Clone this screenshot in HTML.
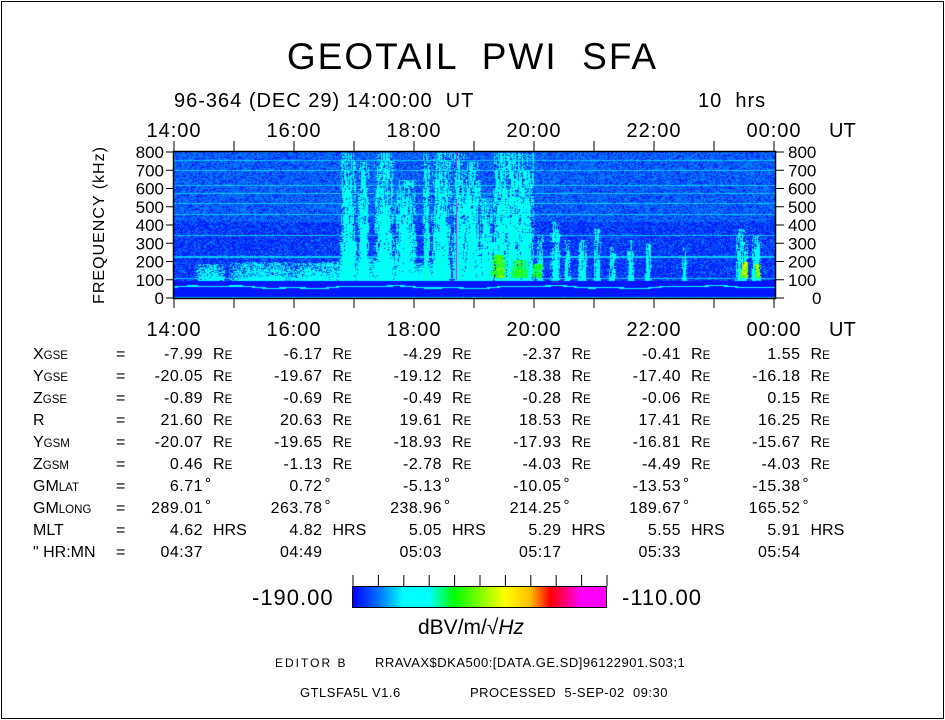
<!DOCTYPE html>
<html><head><meta charset="utf-8"><style>
body{margin:0;background:#fff;}
#root{position:relative;width:945px;height:720px;overflow:hidden;background:#fff;font-family:"Liberation Sans",sans-serif;color:#000;}
.t{position:absolute;white-space:pre;line-height:1;}
small{font-size:72%;}
</style></head><body>
<div id="root">
<div style="position:absolute;left:1px;top:1px;width:941px;height:716px;border:1px solid #000;"></div>
<div class="t" style="left:0;width:945px;text-align:center;top:38px;font-size:37px;letter-spacing:2px;">GEOTAIL  PWI  SFA</div>
<div class="t" style="left:174px;top:91px;font-size:20px;letter-spacing:1px;">96-364 (DEC 29) 14:00:00  UT</div>
<div class="t" style="left:698px;top:91px;font-size:20px;letter-spacing:1px;">10  hrs</div>
<canvas id="spec" width="602" height="147" style="position:absolute;left:174px;top:152px;"></canvas>
<svg id="ax" width="945" height="720" style="position:absolute;left:0;top:0;"></svg>
<div id="table"></div>
<div style="position:absolute;left:352px;top:586px;width:253px;height:20px;border:1px solid #000;background:linear-gradient(to right,#0000ff 0%,#0070ff 10%,#00ffff 20%,#00ffff 30%,#00ff00 40%,#ffff00 60%,#ffc000 70%,#ff0000 78%,#ff00a0 86%,#ff00ff 90%,#ff00ff 100%);"></div>
<div class="t" style="left:252px;top:587px;font-size:22px;letter-spacing:1px;">-190.00</div>
<div class="t" style="left:622px;top:587px;font-size:22px;letter-spacing:1px;">-110.00</div>
<div class="t" style="left:418px;top:617px;font-size:21px;">dBV/m/√<i>Hz</i></div>
<div class="t" style="left:275px;top:657px;font-size:12px;letter-spacing:2px;">EDITOR B</div>
<div class="t" style="left:375px;top:656px;font-size:13px;letter-spacing:0.5px;">RRAVAX$DKA500:[DATA.GE.SD]96122901.S03;1</div>
<div class="t" style="left:300px;top:686px;font-size:13px;letter-spacing:0.5px;">GTLSFA5L V1.6</div>
<div class="t" style="left:470px;top:686px;font-size:13px;letter-spacing:0.5px;">PROCESSED  5-SEP-02  09:30</div>
</div>
<script>
// ---- chart data ----
const hourLabels = ["14:00","16:00","18:00","20:00","22:00","00:00"];
const freqTicks = [0,100,200,300,400,500,600,700,800];
const burstT = [2.9,3.15,3.5,3.85,4.2,4.45,4.75,4.95,5.2,5.45,5.65,5.85,6.1,6.35,6.55,6.8,7.05,7.3,7.6,7.9,8.5,9.45,9.7];
const burstW = [0.3,0.2,0.35,0.4,0.12,0.35,0.25,0.35,0.3,0.3,0.3,0.3,0.12,0.18,0.12,0.15,0.12,0.12,0.12,0.12,0.1,0.22,0.18];
const burstTop = [800,750,800,650,800,800,800,750,550,800,800,800,350,420,320,320,380,280,320,300,280,380,340];
const burstLevel = [0.25,0.24,0.24,0.23,0.3,0.26,0.25,0.25,0.24,0.27,0.27,0.26,0.23,0.23,0.23,0.22,0.22,0.22,0.22,0.22,0.22,0.24,0.24];
const patchT = [5.4,5.75,6.05,9.5,9.72];
const patchW = [0.25,0.3,0.2,0.14,0.12];
const patchLo = [110,110,110,110,110];
const patchHi = [240,210,190,200,190];
const patchLevel = [0.5,0.46,0.44,0.6,0.55];
const hazeT = [0.6,1.5,2.4,3.4,4.1];
const hazeW = [0.5,1.2,1.2,1.2,0.8];
const hazeTop = [190,200,200,215,200];
const hLines = [110,225,228,345,460,520,575,620,700,755];
const rows = [
 ["X","GSE",["-7.99","-6.17","-4.29","-2.37","-0.41","1.55"],"RE"],
 ["Y","GSE",["-20.05","-19.67","-19.12","-18.38","-17.40","-16.18"],"RE"],
 ["Z","GSE",["-0.89","-0.69","-0.49","-0.28","-0.06","0.15"],"RE"],
 ["R","",["21.60","20.63","19.61","18.53","17.41","16.25"],"RE"],
 ["Y","GSM",["-20.07","-19.65","-18.93","-17.93","-16.81","-15.67"],"RE"],
 ["Z","GSM",["0.46","-1.13","-2.78","-4.03","-4.49","-4.03"],"RE"],
 ["GM","LAT",["6.71","0.72","-5.13","-10.05","-13.53","-15.38"],"°"],
 ["GM","LONG",["289.01","263.78","238.96","214.25","189.67","165.52"],"°"],
 ["MLT","",["4.62","4.82","5.05","5.29","5.55","5.91"],"HRS"],
 ["\" HR:MN","",["04:37","04:49","05:03","05:17","05:33","05:54"],""]
];
// ---- axes ----
const X0=174, PW=600, Y0=298, PH=146;
const xs = h => X0 + h*PW/10;
const ys = f => Y0 - f*PH/800;
const NS="http://www.w3.org/2000/svg";
const svg=document.getElementById('ax');
function mk(tag,attrs,txt){const e=document.createElementNS(NS,tag);for(const k in attrs)e.setAttribute(k,attrs[k]);if(txt!==undefined)e.textContent=txt;svg.appendChild(e);return e;}
const frame=mk('rect',{x:173.5,y:151.5,width:602,height:147,fill:'none',stroke:'#000','stroke-width':1.5});


for(let h=0;h<=10;h++){
 const a=mk('line',{x1:xs(h),x2:xs(h),y1:141,y2:151,stroke:'#000'});
 
 
 const b=mk('line',{x1:xs(h),x2:xs(h),y1:298,y2:308,stroke:'#000'});
 
 
}
hourLabels.forEach((l,i)=>{
 const a=mk('text',{x:xs(i*2),y:137,'text-anchor':'middle','font-size':20,'font-family':'Liberation Sans','letter-spacing':1},l);
 
 
 const b=mk('text',{x:xs(i*2),y:336,'text-anchor':'middle','font-size':20,'font-family':'Liberation Sans','letter-spacing':1},l);
 
 
});
[137,336].forEach(y=>{const u=mk('text',{x:829,y:y,'font-size':20,'font-family':'Liberation Sans'},'UT');
 
 });
freqTicks.forEach(f=>{
 const y=ys(f);
 const a=mk('line',{x1:166,x2:174,y1:y,y2:y,stroke:'#000'});
 
 
 const b=mk('line',{x1:776,x2:784,y1:y,y2:y,stroke:'#000'});
 
 
 const c=mk('text',{x:164,y:y+6,'text-anchor':'end','font-size':17,'font-family':'Liberation Sans'},String(f));
 
 
 const d=mk('text',{x:f==0?812:788,y:y+6,'font-size':17,'font-family':'Liberation Sans'},String(f));
 
 
});
const yl=mk('text',{x:0,y:0,transform:'translate(104,225) rotate(-90)','text-anchor':'middle','font-size':16,'font-family':'Liberation Sans','letter-spacing':1},'FREQUENCY  (kHz)');


for(let i=0;i<=10;i++){const x=353+i*25.4;const t=mk('line',{x1:x,x2:x,y1:575,y2:586,stroke:'#000'});
 
 }
// ---- table ----
const tb=document.getElementById('table');
rows.forEach((r,i)=>{
 const y=347+i*22;
 const l=document.createElement('div');l.className='t';l.style.cssText=`left:33px;top:${y}px;font-size:16px;`;
 l.innerHTML=r[0]+(r[1]?'<small>'+r[1]+'</small>':'');
 
 
 tb.appendChild(l);
 const e=document.createElement('div');e.className='t';e.style.cssText=`left:116px;top:${y}px;font-size:16px;`;e.textContent='=';
 
 
 tb.appendChild(e);
 r[2].forEach((v,j)=>{
  const d=document.createElement('div');d.className='t';
  d.style.cssText=`left:${104+j*119.5}px;width:99px;text-align:right;top:${y}px;font-size:16px;letter-spacing:0.5px;`;
  d.textContent=v;
  
  
  tb.appendChild(d);
  if(r[3]){const u=document.createElement('div');u.className='t';
   u.style.cssText=`left:${(r[3]=='°'?205:213)+j*119.5}px;top:${r[3]=='°'?y-3:y}px;font-size:${r[3]=='°'?15:16}px;`;
   u.innerHTML=r[3]=='RE'?'R<small>E</small>':r[3];
   
   
   tb.appendChild(u);}
 });
});
// ---- spectrogram ----
const cmapStops=[[0,[0,0,255]],[0.1,[0,112,255]],[0.2,[0,255,255]],[0.3,[0,255,230]],[0.4,[0,255,0]],[0.6,[255,255,0]],[0.7,[255,192,0]],[0.78,[255,0,0]],[0.9,[255,0,255]],[1,[255,0,255]]];
function cmap(v){v=Math.max(0,Math.min(1,v));for(let i=1;i<cmapStops.length;i++){if(v<=cmapStops[i][0]){const a=cmapStops[i-1],b=cmapStops[i];const t=(v-a[0])/(b[0]-a[0]);return a[1].map((c,k)=>c+(b[1][k]-c)*t);}}return [255,0,255];}
function hsh(x,y){let n=x*374761393+y*668265263;n=(n^(n>>>13))*1274126177;n=n^(n>>>16);return ((n>>>0)%10000)/10000;}
const cv=document.getElementById('spec'),ctx=cv.getContext('2d');
const W=602,H=147,img=ctx.createImageData(W,H);
for(let py=0;py<H;py++){
 const f=(H-1-py)*800/PH;
 for(let px=0;px<W;px++){
  const t=px*10/PW;
  const n=hsh(px,py);
  const sn=0.6*hsh(px,Math.floor(py/9))+0.4*n; // streaky noise
  let v;
  const lineF=62+6*Math.sin(t*2.3)+3*Math.sin(t*7.1);
  if(f<6) v=0.16+(n<0.03?0.5:0);
  else if(f<98){v=0.02; if(Math.abs(f-lineF)<3.5) v=0.2;}
  else{
   const lowP = f<420?0.3:0.62;
   v = n<lowP?0.11:0.03;
   for(const L of hLines){if(Math.abs(f-L)<3) v=Math.max(v, n<0.85?0.17:0.12);}
   for(let k=0;k<hazeT.length;k++){const d=Math.abs(t-hazeT[k])/(hazeW[k]/2);if(d<1&&f<hazeTop[k]){const p=Math.sqrt(1-d*d)*(1.05-(f-100)/(hazeTop[k]-100)*0.6);if(hsh(px+7,py+3)<p) v=Math.max(v,0.19+0.03*n);}}
   for(let k=0;k<burstT.length;k++){const d=Math.abs(t-burstT[k])/(burstW[k]/2);if(d<1&&f<burstTop[k]){const p=Math.sqrt(1-d*d)*(1.1-0.55*(f/burstTop[k]));if(sn<p) v=Math.max(v,burstLevel[k]*(0.82+0.25*n));}}
   for(let k=0;k<patchT.length;k++){const d=Math.abs(t-patchT[k])/(patchW[k]/2);if(d<1&&f>patchLo[k]&&f<patchHi[k]){const p=Math.sqrt(1-d*d)*0.85;if(sn<p) v=Math.max(v,patchLevel[k]*(0.7+0.4*n));}}
  }
  const c=cmap(v),o=(py*W+px)*4;
  img.data[o]=c[0];img.data[o+1]=c[1];img.data[o+2]=c[2];img.data[o+3]=255;
 }
}
ctx.putImageData(img,0,0);
// magenta spike
ctx.fillStyle='#ff00ff';
ctx.fillRect(Math.round(4.7*PW/10),0,1,Math.round(PH*0.1));
ctx.fillRect(Math.round(4.7*PW/10),Math.round(PH*0.33),1,Math.round(PH*0.55));
</script>
</body></html>
